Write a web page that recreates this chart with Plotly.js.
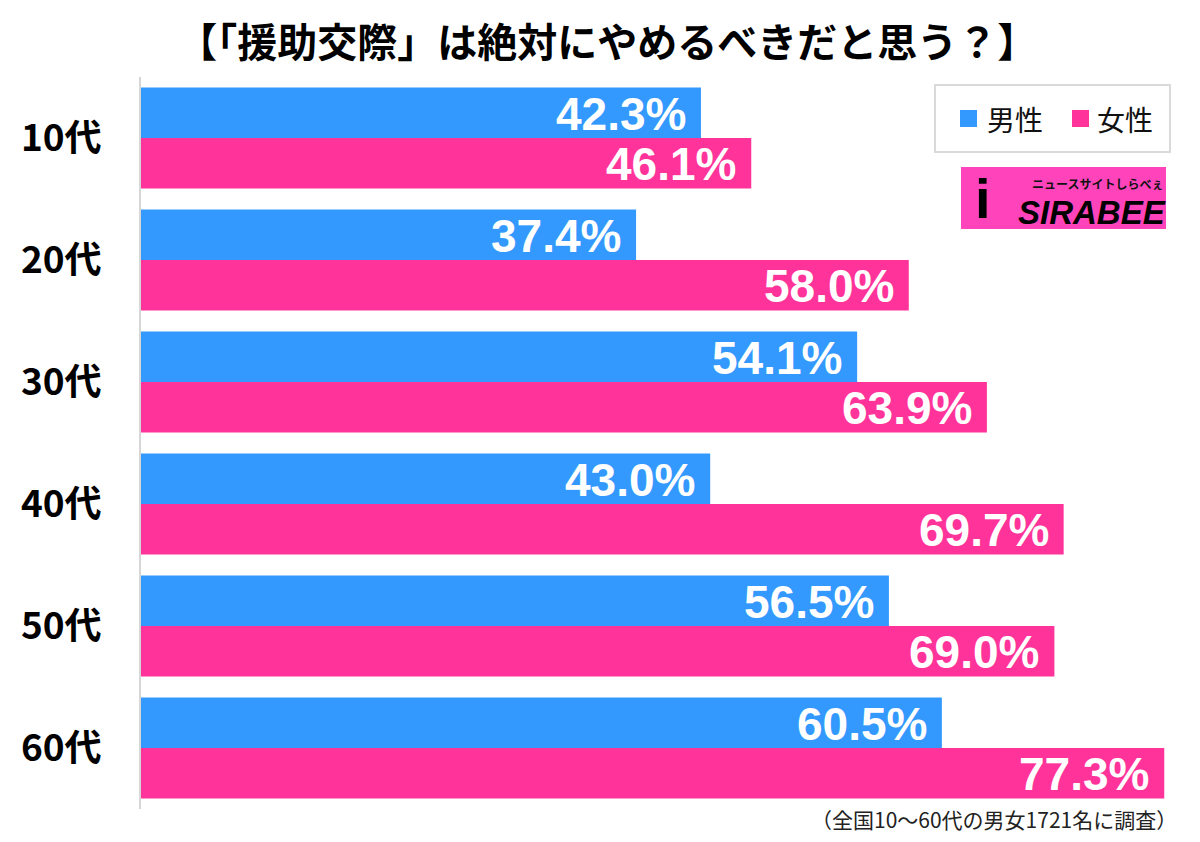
<!DOCTYPE html>
<html>
<head>
<meta charset="utf-8">
<script src="https://cdn.plot.ly/plotly-3.0.1.min.js"></script>
<style>html,body{margin:0;padding:0;background:#fff;}#chart{width:1200px;height:842px;}</style>
</head>
<body>
<div id="chart"></div>
<script>
const categories = ["10代", "20代", "30代", "40代", "50代", "60代"];
const male = [42.3, 37.4, 54.1, 43.0, 56.5, 60.5];
const female = [46.1, 58.0, 63.9, 69.7, 69.0, 77.3];
const seriesNames = ["男性", "女性"];
const titleText = "【「援助交際」は絶対にやめるべきだと思う？】";
const noteText = "（全国10～60代の男女1721名に調査）";

const BLUE = "#3399ff", PINK = "#ff3399";
const W = 1200, H = 842, L = 141, R = 0, T = 77, B = 33;
const pw = W - L - R, ph = H - T - B;
const px = x => (x - L) / pw;
const py = y => (H - B - y) / ph;
const CJK = "Noto Sans CJK JP, Noto Sans, sans-serif";
const NUM = "Liberation Sans, Arial, sans-serif";

const traces = [
  {type: "bar", orientation: "h", name: seriesNames[0], y: categories, x: male,
   marker: {color: BLUE}, hoverinfo: "none"},
  {type: "bar", orientation: "h", name: seriesNames[1], y: categories, x: female,
   marker: {color: PINK}, hoverinfo: "none"}
];

const annotations = [];
[[male, 25], [female, -25]].forEach(([vals, ys]) => {
  vals.forEach((v, i) => {
    annotations.push({x: v, y: categories[i], xref: "x", yref: "y",
      text: v.toFixed(1) + "%", showarrow: false, xanchor: "right", yanchor: "middle",
      xshift: -13, yshift: ys - 1,
      font: {family: NUM, size: 46, color: "#ffffff", weight: "bold"}});
  });
});
annotations.push({xref: "paper", yref: "paper", x: px(1179), y: py(819), xanchor: "right", yanchor: "middle",
  text: noteText, showarrow: false, font: {family: CJK, size: 21, color: "#222"}});

// manual legend
const shapes = [
  {type: "rect", xref: "paper", yref: "paper", x0: px(935), x1: px(1170), y0: py(152), y1: py(85),
   fillcolor: "#fff", line: {color: "#dadada", width: 2}},
  {type: "rect", xref: "paper", yref: "paper", x0: px(960), x1: px(977), y0: py(127), y1: py(110),
   fillcolor: BLUE, line: {width: 0}},
  {type: "rect", xref: "paper", yref: "paper", x0: px(1072), x1: px(1089), y0: py(127), y1: py(110),
   fillcolor: PINK, line: {width: 0}},
  // logo background
  {type: "rect", xref: "paper", yref: "paper", x0: px(961), x1: px(1166), y0: py(229), y1: py(167),
   fillcolor: "#ff44bb", line: {width: 0}}
];
annotations.push({xref: "paper", yref: "paper", x: px(985), y: py(119), xanchor: "left", yanchor: "middle",
  text: seriesNames[0], showarrow: false, font: {family: CJK, size: 28, color: "#111"}});
annotations.push({xref: "paper", yref: "paper", x: px(1095), y: py(119), xanchor: "left", yanchor: "middle",
  text: seriesNames[1], showarrow: false, font: {family: CJK, size: 28, color: "#111"}});

// logo texts
annotations.push({xref: "paper", yref: "paper", x: px(1165), y: py(183), xanchor: "right", yanchor: "middle",
  text: "ニュースサイトしらべぇ", showarrow: false, font: {family: CJK, size: 12, color: "#111", weight: "bold"}});
annotations.push({xref: "paper", yref: "paper", x: px(1168), y: py(212), xanchor: "right", yanchor: "middle",
  text: "<i>SIRABEE</i>", showarrow: false, font: {family: NUM, size: 33, color: "#000", weight: "bold"}});
annotations.push({xref: "paper", yref: "paper", x: px(983), y: py(199), xanchor: "center", yanchor: "middle",
  text: "<b>i</b>", showarrow: false, font: {family: NUM, size: 56, color: "#000"}});

const layout = {
  width: W, height: H,
  margin: {l: L, r: R, t: T, b: B, pad: 0},
  paper_bgcolor: "#fff", plot_bgcolor: "#fff",
  title: {text: titleText, x: 0.506, xref: "container", y: 1 - 43 / H, yref: "container",
    xanchor: "center", yanchor: "middle",
    font: {family: CJK, size: 40, color: "#000", weight: "bold"}},
  barmode: "group", bargap: 0.172, bargroupgap: 0,
  xaxis: {range: [0, 80], showgrid: false, zeroline: false, showticklabels: false, showline: false, fixedrange: true},
  yaxis: {autorange: "reversed", showgrid: false, zeroline: false, showline: true,
    linecolor: "#d6d6d6", linewidth: 2, ticks: "", ticklabelstandoff: 30,
    tickfont: {family: CJK, size: 37, color: "#000", weight: "bold"}},
  showlegend: false,
  shapes: shapes,
  annotations: annotations
};

Plotly.newPlot("chart", traces, layout, {displayModeBar: false, staticPlot: true});
</script>
</body>
</html>
